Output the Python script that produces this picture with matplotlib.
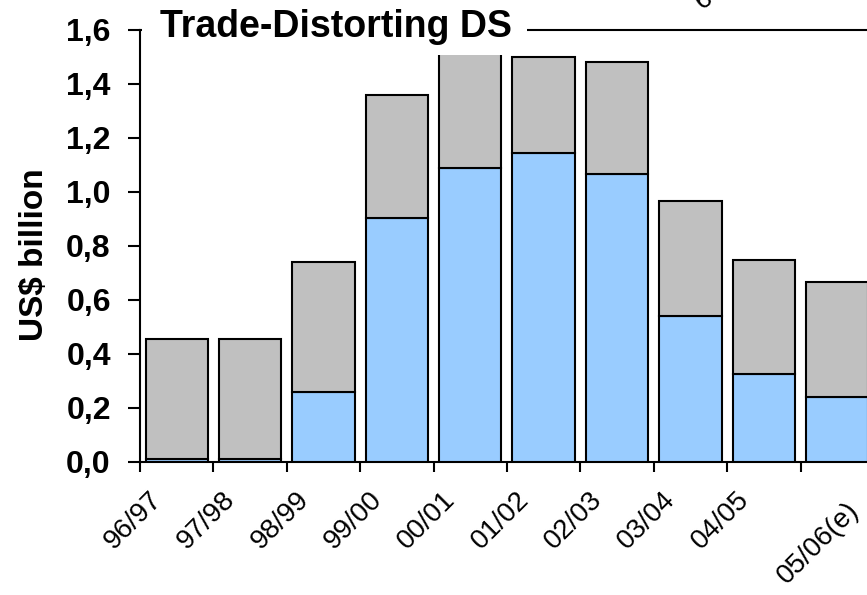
import matplotlib.pyplot as plt
import matplotlib.patches as mpatches
import matplotlib.transforms as mtransforms

plt.rcParams['font.family'] = ['Liberation Sans', 'DejaVu Sans']

# Trade-distorting domestic support, US$ billion
seasons = ["96/97", "97/98", "98/99", "99/00", "00/01",
           "01/02", "02/03", "03/04", "04/05", "05/06(e)"]
lower_part = [0.01, 0.01, 0.26, 0.905, 1.09, 1.145, 1.065, 0.54, 0.325, 0.24]
totals = [0.455, 0.455, 0.74, 1.36, 1.57, 1.50, 1.48, 0.965, 0.75, 0.665]
upper_part = [t - b for t, b in zip(totals, lower_part)]

y_ticks = [0.0, 0.2, 0.4, 0.6, 0.8, 1.0, 1.2, 1.4, 1.6]
y_tick_labels = ["0,0", "0,2", "0,4", "0,6", "0,8", "1,0", "1,2", "1,4", "1,6"]

fig = plt.figure(figsize=(8.67, 5.95), dpi=100)
ax = fig.add_axes([140 / 867, 1 - 462 / 595, 1 - 140 / 867, 432 / 595])

x = list(range(len(seasons)))
ax.bar(x, lower_part, width=0.85, color="#99CCFF", edgecolor="black", linewidth=1.5, zorder=3)
ax.bar(x, upper_part, bottom=lower_part, width=0.85, color="#C0C0C0",
       edgecolor="black", linewidth=1.5, zorder=3)

ax.set_xlim(-0.5, 9.405)
ax.set_ylim(0, 1.6)

# category labels at centres, tick marks on the boundaries
ax.set_xticks(x)
ax.set_xticklabels(seasons, rotation=45, ha="right", va="top", rotation_mode="anchor",
                   fontsize=20)
ax.set_xticks([i - 0.5 for i in range(len(seasons))], minor=True)
ax.tick_params(axis="x", which="major", length=0, pad=18)
ax.tick_params(axis="x", which="minor", length=7, width=1.5, direction="out")
labels = ax.get_xticklabels()
for i, lbl in enumerate(labels):
    dx, dy = -0.28, 0
    if i == len(labels) - 1:
        # the long last label sits further right and lower
        dx, dy = 0.09, -0.10
    shift = mtransforms.ScaledTranslation(dx, dy, fig.dpi_scale_trans)
    lbl.set_transform(lbl.get_transform() + shift)

ax.set_yticks(y_ticks)
ax.set_yticklabels(y_tick_labels, fontsize=23, fontweight="bold")
ax.tick_params(axis="y", length=9, width=1.5, direction="out", pad=12)

for side in ["left", "bottom", "top"]:
    ax.spines[side].set_linewidth(1.5)
ax.spines["right"].set_visible(False)

ax.set_ylabel("US$ billion", fontsize=24, fontweight="bold")
ax.yaxis.set_label_coords(-0.124, 0.48)

# white box behind the title hides the top of the frame
fig.patches.append(mpatches.Rectangle((142 / 867, 1 - 55 / 595), 385 / 867, 55 / 595,
                                      transform=fig.transFigure, facecolor="white",
                                      edgecolor="none", zorder=5))
fig.text(160 / 867, 1 - 27 / 595, "Trade-Distorting DS", fontsize=27, fontweight="bold",
         ha="left", va="center", zorder=6)

# fragment of a rotated label cut off at the top edge
fig.text(704 / 867, 1.0, "6", fontsize=20, rotation=35, ha="center", va="center")

fig.savefig("out.png", dpi=100)
